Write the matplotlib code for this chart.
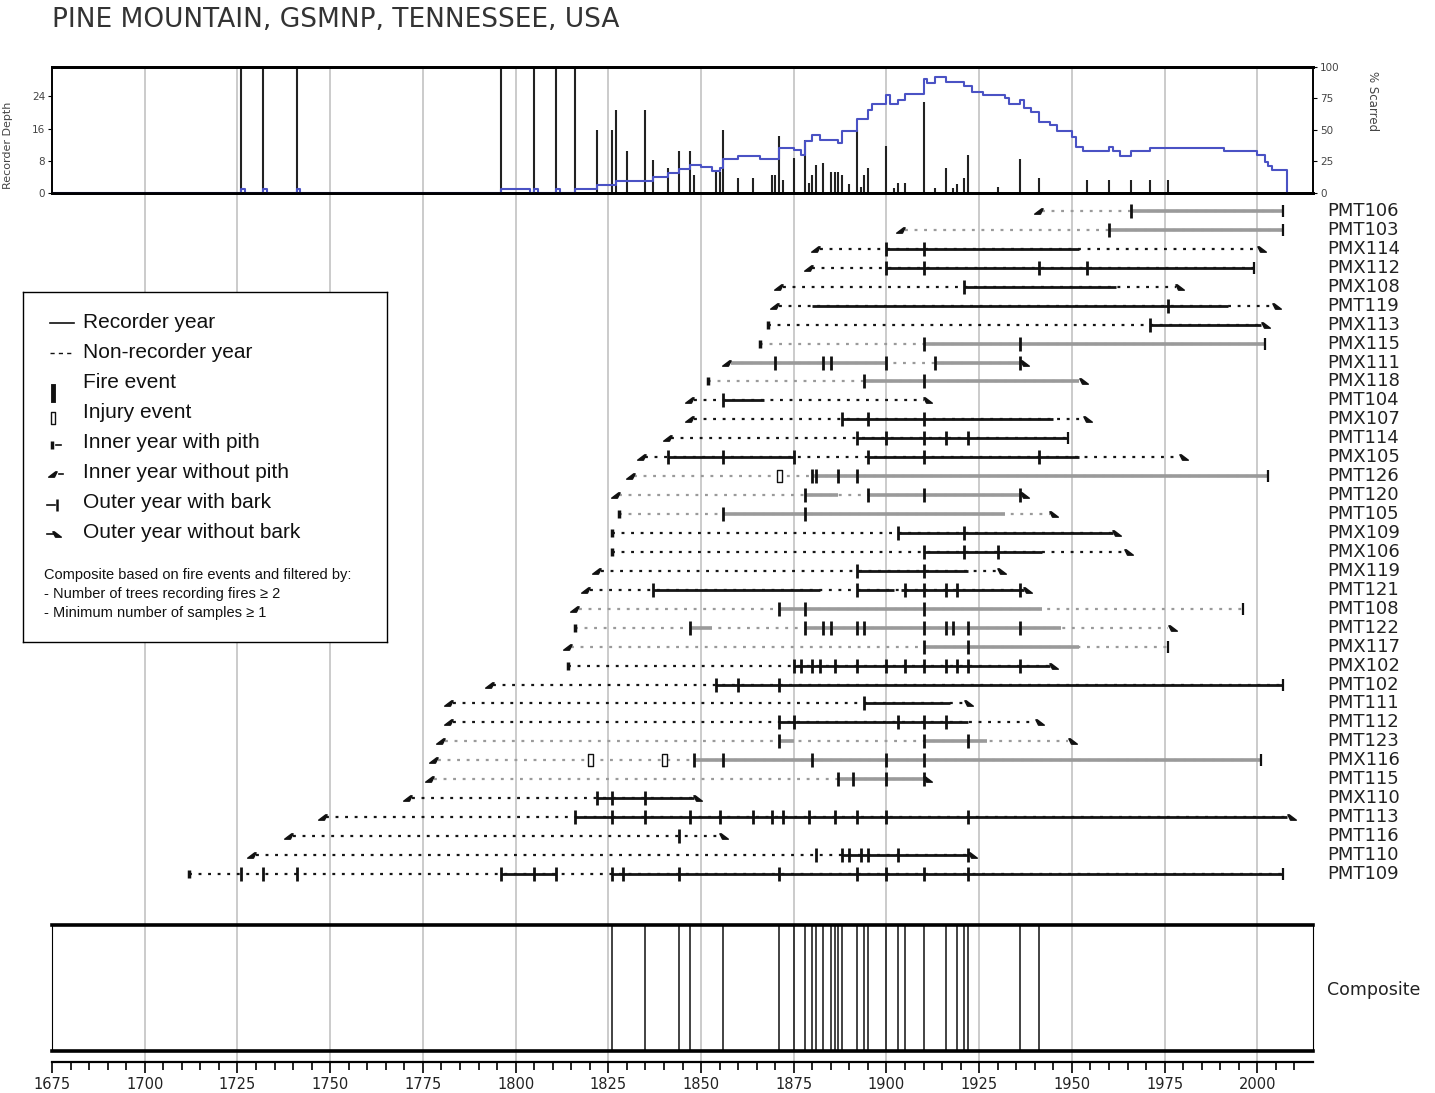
import matplotlib
matplotlib.use("Agg")
import matplotlib.pyplot as plt
from matplotlib.path import Path

# ---- series (top to bottom) ----
series_names = ['PMT106', 'PMT103', 'PMX114', 'PMX112', 'PMX108', 'PMT119', 'PMX113', 'PMX115',
                'PMX111', 'PMX118', 'PMT104', 'PMX107', 'PMT114', 'PMX105', 'PMT126', 'PMT120',
                'PMT105', 'PMX109', 'PMX106', 'PMX119', 'PMT121', 'PMT108', 'PMT122', 'PMX117',
                'PMX102', 'PMT102', 'PMT111', 'PMT112', 'PMT123', 'PMX116', 'PMT115', 'PMX110',
                'PMT113', 'PMT116', 'PMT110', 'PMT109']
inner_years = [1942, 1905, 1882, 1880, 1872, 1871, 1868, 1866, 1858, 1852, 1848, 1848, 1842, 1835,
               1832, 1828, 1828, 1826, 1826, 1823, 1820, 1817, 1816, 1815, 1814, 1794, 1783, 1783,
               1781, 1779, 1778, 1772, 1749, 1740, 1730, 1712]
has_pith = [0, 0, 0, 0, 0, 0, 1, 1, 0, 1, 0, 0, 0, 0, 0, 0, 1, 1, 1, 0, 0, 0, 1, 0, 1, 0, 0, 0,
            0, 0, 0, 0, 0, 0, 0, 1]
outer_years = [2007, 2007, 2000, 1999, 1978, 2004, 2001, 2002, 1936, 1952, 1910, 1953, 1949, 1979,
               2003, 1936, 1944, 1961, 1964, 1930, 1937, 1996, 1976, 1976, 1944, 2007, 1921, 1940,
               1949, 2001, 1910, 1848, 2008, 1855, 1922, 2007]
has_bark = [1, 1, 0, 1, 0, 0, 0, 1, 0, 0, 0, 0, 1, 0, 1, 0, 0, 0, 0, 0, 0, 1, 0, 1, 0, 1, 0, 0,
            0, 1, 0, 0, 0, 0, 0, 1]
recorder_spans = [
    [(1966, 2007)], [(1960, 2007)], [(1900, 1952)], [(1900, 1999)], [(1921, 1962)],
    [(1880, 1992)], [(1971, 2001)], [(1910, 2002)], [(1858, 1900), (1913, 1936)],
    [(1894, 1952)], [(1856, 1867)], [(1888, 1945)], [(1892, 1949)],
    [(1841, 1875), (1895, 1952)], [(1880, 2003)], [(1878, 1887), (1895, 1936)],
    [(1856, 1932)], [(1903, 1961)], [(1910, 1942)], [(1892, 1922)],
    [(1837, 1882), (1892, 1902), (1904, 1937)], [(1871, 1942)], [(1847, 1853), (1878, 1947)],
    [(1910, 1952)], [(1875, 1944)], [(1854, 2007)], [(1894, 1917)], [(1871, 1922)],
    [(1871, 1875), (1910, 1927)], [(1848, 2001)], [(1887, 1910)], [(1822, 1848)],
    [(1816, 2008)], [], [(1888, 1922)], [(1796, 1811), (1826, 2007)]]
fire_years = [
    [1966], [1960], [1900, 1910], [1900, 1910, 1941, 1954], [1921], [1976], [1971], [1910, 1936],
    [1870, 1883, 1885, 1900, 1913, 1936], [1894, 1910], [1856], [1888, 1895, 1910],
    [1892, 1900, 1910, 1916, 1922], [1841, 1856, 1875, 1895, 1910, 1941],
    [1880, 1881, 1887, 1892], [1878, 1895, 1910, 1936], [1856, 1878], [1903, 1921],
    [1910, 1921, 1930], [1892, 1910], [1837, 1892, 1905, 1910, 1916, 1919, 1936],
    [1871, 1878, 1910], [1847, 1878, 1883, 1885, 1892, 1894, 1910, 1916, 1918, 1922, 1936],
    [1910, 1922], [1875, 1877, 1880, 1882, 1886, 1892, 1900, 1905, 1910, 1916, 1919, 1922, 1936],
    [1854, 1860, 1871], [1894], [1871, 1875, 1903, 1910, 1916], [1871, 1910, 1922],
    [1848, 1856, 1880, 1900, 1910], [1887, 1891, 1900, 1910], [1822, 1826, 1835],
    [1816, 1826, 1835, 1847, 1855, 1864, 1869, 1872, 1879, 1886, 1892, 1900, 1922], [1844],
    [1881, 1888, 1890, 1893, 1895, 1903, 1922],
    [1726, 1732, 1741, 1796, 1805, 1811, 1826, 1829, 1844, 1871, 1892, 1900, 1910, 1922]]
injury_years = [[], [], [], [], [], [], [], [], [], [], [], [], [], [], [1871], [], [], [], [], [],
                [], [], [], [], [], [], [], [], [], [1820, 1840], [], [], [], [], [], []]

# ---- top panel: % scarred bars and recorder depth ----
scar_years = [1726, 1732, 1741, 1796, 1805, 1811, 1816, 1822, 1826, 1827, 1830, 1835, 1837, 1841,
              1844, 1847, 1848, 1854, 1855, 1856, 1860, 1864, 1869, 1870, 1871, 1872, 1875, 1878,
              1879, 1880, 1881, 1883, 1885, 1886, 1887, 1888, 1890, 1892, 1893, 1894, 1895, 1900,
              1902, 1903, 1905, 1910, 1913, 1916, 1918, 1919, 1921, 1922, 1930, 1936, 1941, 1954,
              1960, 1966, 1971, 1976]
scar_pct = [100, 100, 100, 100, 100, 100, 100, 50, 50, 66, 33, 66, 26, 20,
            33, 33, 14, 17, 17, 50, 12, 12, 14, 14, 45, 10, 28, 42,
            8, 14, 22, 24, 17, 17, 17, 14, 7, 50, 5, 14, 20, 37,
            4, 8, 8, 72, 4, 20, 4, 7, 12, 30, 5, 27, 12, 10,
            10, 10, 10, 10]
depth_years = [1675, 1726, 1727, 1732, 1733, 1741, 1742, 1796, 1804, 1805, 1806, 1811, 1812, 1816,
               1822, 1827, 1837, 1841, 1844, 1847, 1850, 1853, 1855, 1856, 1860, 1866, 1871, 1875,
               1877, 1878, 1880, 1882, 1887, 1888, 1892, 1895, 1896, 1900, 1901, 1903, 1905, 1910,
               1911, 1913, 1916, 1921, 1923, 1926, 1932, 1933, 1936, 1937, 1939, 1941, 1944, 1946,
               1950, 1951, 1953, 1960, 1961, 1963, 1966, 1971, 1991, 2000, 2002, 2003, 2004, 2008]
depth_vals = [0, 1, 0, 1, 0, 1, 0, 1, 0, 1, 0, 1, 0, 1,
              2, 3, 4, 5, 6, 7, 6.4, 5.4, 6.2, 8.4, 9.3, 8.4, 11.3, 10.7,
              9.5, 12.8, 14.4, 13.2, 12.4, 15.5, 18.5, 20.6, 22.2, 24.3, 22.2, 23.2, 24.7, 28.4,
              27.3, 28.7, 27.6, 26.5, 25.1, 24.3, 23.5, 22.2, 23.0, 21.0, 20.2, 17.7, 16.9, 15.5,
              14.0, 11.4, 10.5, 11.4, 10.4, 9.3, 10.5, 11.3, 10.5, 9.5, 7.8, 6.8, 5.6, 0]

# ---- composite ----
composite_years = [1826, 1835, 1844, 1847, 1856, 1871, 1875, 1878, 1880, 1881, 1883, 1885, 1886,
                   1887, 1888, 1892, 1894, 1895, 1900, 1903, 1905, 1910, 1916, 1919, 1921, 1922,
                   1936, 1941]

# line colour of each series (drawing style, kept apart from data)
grey_rows = {'PMT106', 'PMT103', 'PMX115', 'PMX111', 'PMX118', 'PMT126', 'PMT120', 'PMT105',
             'PMT108', 'PMT122', 'PMX117', 'PMT123', 'PMX116', 'PMT115'}

W, H = 1435, 1093


def box(x0, y0, x1, y1):
    return [x0 / W, 1 - y1 / H, (x1 - x0) / W, (y1 - y0) / H]


inner_mark = Path([(-1.0, -0.55), (0.2, -0.55), (0.75, 0.55), (0.45, 0.55), (-1.0, -0.55)],
                  [Path.MOVETO, Path.LINETO, Path.LINETO, Path.LINETO, Path.CLOSEPOLY])
outer_mark = Path([(1.0, -0.55), (-0.2, -0.55), (-0.75, 0.55), (-0.45, 0.55), (1.0, -0.55)],
                  [Path.MOVETO, Path.LINETO, Path.LINETO, Path.LINETO, Path.CLOSEPOLY])
injury_mark = Path([(-0.4, -1), (0.4, -1), (0.4, 1), (-0.4, 1), (-0.4, -1)],
                   [Path.MOVETO, Path.LINETO, Path.LINETO, Path.LINETO, Path.CLOSEPOLY])


def main():
    fig = plt.figure(figsize=(W / 100, H / 100), dpi=100)
    XMIN, XMAX = 1675, 2015

    # main axes: grid, time axis and the series
    ax = fig.add_axes(box(52, 67, 1313, 1062))
    ax.set_xlim(XMIN, XMAX)
    ax.set_ylim((1062 - 211) / 18.94, (67 - 211) / 18.94)
    for s in ['top', 'left', 'right']:
        ax.spines[s].set_visible(False)
    ax.spines['bottom'].set_linewidth(1.6)
    ax.set_yticks([])
    ax.set_xticks(range(1675, 2001, 25))
    ax.set_xticks(range(1675, 2015, 5), minor=True)
    ax.tick_params(axis='x', which='major', length=8, width=1.2, labelsize=10.5, pad=3,
                   labelcolor='#222')
    ax.tick_params(axis='x', which='minor', length=6, width=1.2)
    for yr in range(1700, 2001, 25):
        ax.axvline(yr, color='#bdbdbd', lw=1.1, zorder=0)

    for i, name in enumerate(series_names):
        c = '#9a9a9a' if name in grey_rows else '#151515'
        ax.plot([inner_years[i], outer_years[i]], [i, i], color=c, lw=1.6, dashes=(1.3, 3.0))
        for a, b in recorder_spans[i]:
            ax.plot([a, b], [i, i], color=c, lw=2.6 if name in grey_rows else 2.0,
                    solid_capstyle='butt')
        f = fire_years[i]
        ax.plot(f, [i] * len(f), ls='none', marker='|', ms=10, mew=2.0, color='#111')
        if injury_years[i]:
            ax.plot(injury_years[i], [i] * len(injury_years[i]), ls='none', marker=injury_mark,
                    ms=9, mfc='white', mec='#111', mew=1.0)
        if has_pith[i]:
            ax.plot([inner_years[i]], [i], ls='none', marker='|', ms=6, mew=2.5, color='#111')
        else:
            ax.plot([inner_years[i] - 1], [i], ls='none', marker=inner_mark, ms=7, color='#111')
        if has_bark[i]:
            ax.plot([outer_years[i]], [i], ls='none', marker='|', ms=8, mew=1.6, color='#111')
        else:
            ax.plot([outer_years[i] + 1], [i], ls='none', marker=outer_mark, ms=7, color='#111')
        ax.text(2018.8, i, name, va='center', ha='left', fontsize=13, color='#222',
                clip_on=False)

    # top panel
    axt = fig.add_axes(box(52, 67, 1313, 193))
    axp = axt.twinx()
    axt.set_zorder(axp.get_zorder() + 1)
    axt.patch.set_visible(False)
    axp.patch.set_visible(False)
    axt.set_xlim(XMIN, XMAX)
    axt.set_ylim(0, 31.3)
    axp.set_ylim(0, 100)
    axp.vlines(scar_years, 0, scar_pct, color='#222', lw=1.5)
    axt.step(depth_years, depth_vals, where='post', color='#4a52c4', lw=1.5)
    axt.set_xticks([])
    axt.set_yticks([0, 8, 16, 24])
    axp.set_yticks([0, 25, 50, 75, 100])
    axt.tick_params(axis='y', length=3, labelsize=7.5, labelcolor='#444', pad=2)
    axp.tick_params(axis='y', length=3, labelsize=7.5, labelcolor='#444', pad=2)
    for a in (axt, axp):
        for s in ['top', 'bottom']:
            a.spines[s].set_linewidth(2.0)
        a.spines['left'].set_linewidth(1.2)
        a.spines['right'].set_linewidth(1.2)
    axt.set_ylabel('Recorder Depth', fontsize=8, color='#444', labelpad=4)
    axp.set_ylabel('% Scarred', fontsize=8.5, color='#444', rotation=-90, labelpad=12,
                   va='bottom')
    axp.yaxis.set_label_coords(1.042, 0.73)
    axt.yaxis.set_label_coords(-0.031, 0.38)

    # composite panel
    axc = fig.add_axes(box(52, 925, 1313, 1051))
    axc.patch.set_visible(False)
    axc.set_xlim(XMIN, XMAX)
    axc.set_ylim(0, 1)
    axc.vlines(composite_years, 0, 1, color='#222', lw=1.2)
    axc.set_xticks([])
    axc.set_yticks([])
    axc.spines['top'].set_linewidth(2.6)
    axc.spines['bottom'].set_linewidth(2.6)
    fig.text(1327 / W, 1 - 990 / H, 'Composite', fontsize=12.5, color='#222', va='center')

    # title
    fig.text(52 / W, 1 - 20 / H, 'PINE MOUNTAIN, GSMNP, TENNESSEE, USA', fontsize=19,
             color='#333', va='center')

    # legend
    axl = fig.add_axes(box(23, 292, 387, 642))
    axl.set_xlim(0, 364)
    axl.set_ylim(350, 0)
    axl.set_facecolor('white')
    axl.set_zorder(10)
    axl.set_xticks([])
    axl.set_yticks([])
    for s in axl.spines.values():
        s.set_linewidth(1.0)
    labels = ['Recorder year', 'Non-recorder year', 'Fire event', 'Injury event',
              'Inner year with pith', 'Inner year without pith', 'Outer year with bark',
              'Outer year without bark']
    for k, lab in enumerate(labels):
        axl.text(60, 31 + 30 * k, lab, fontsize=15, family='Liberation Sans', va='center',
                 color='#111')
    axl.plot([27, 51], [31, 31], color='#111', lw=1.2)
    axl.plot([27, 51], [61, 61], color='#111', lw=1.0, dashes=(3, 3))
    axl.plot([30, 30], [94, 108], color='#111', lw=3.5)
    axl.plot([30], [126], marker=injury_mark, ms=8, mfc='white', mec='#111', mew=1.0)
    axl.plot([29], [153], marker='|', ms=6, mew=2.5, color='#111')
    axl.plot([33, 38], [153, 153], color='#111', lw=1.2)
    axl.plot([30], [182], marker=inner_mark, ms=7, color='#111')
    axl.plot([36, 40], [182, 182], color='#111', lw=1.2)
    axl.plot([24, 32], [213, 213], color='#111', lw=1.2)
    axl.plot([34], [213], marker='|', ms=8, mew=1.8, color='#111')
    axl.plot([24, 31], [242, 242], color='#111', lw=1.2)
    axl.plot([33], [242], marker=outer_mark, ms=7, color='#111')
    notes = ['Composite based on fire events and filtered by:',
             '- Number of trees recording fires \u2265 2',
             '- Minimum number of samples \u2265 1']
    for k, t in enumerate(notes):
        axl.text(21, 283 + 19 * k, t, fontsize=10.5, family='Liberation Sans', va='center',
                 color='#111')

    fig.savefig('out.png', dpi=100)


if __name__ == "__main__":
    main()
